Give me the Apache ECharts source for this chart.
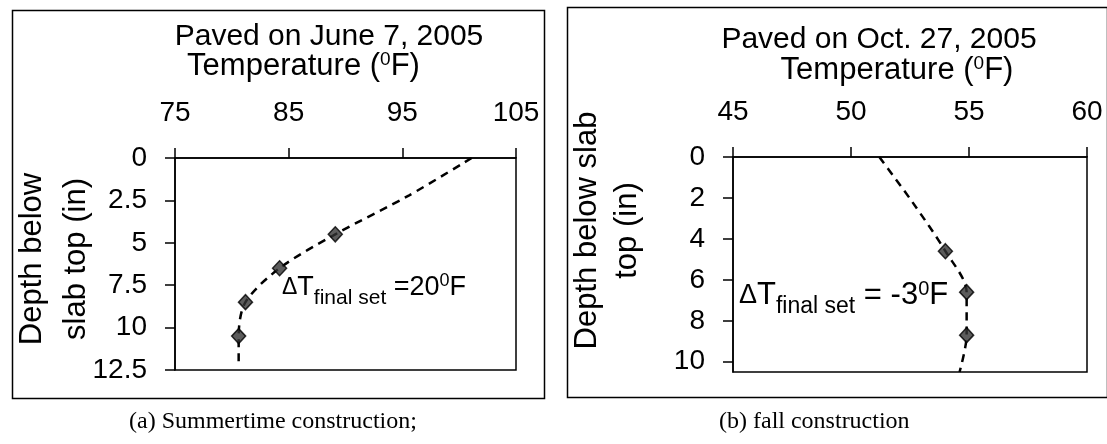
<!DOCTYPE html>
<html>
<head>
<meta charset="utf-8">
<script src="https://cdn.jsdelivr.net/npm/echarts@6/dist/echarts.min.js"></script>
<style>
  html, body { margin: 0; padding: 0; background: #fff; }
  #chart { width: 1107px; height: 444px; }
</style>
</head>
<body>
<div id="chart"></div>
<script>
// (a) summertime construction - paved June 7, 2005
const summerTemp = [89.1, 84.2, 81.2, 80.6];
const summerDepth = [4.5, 6.5, 8.5, 10.5];
const summerFitTemp = [101.1, 95.6, 89.1, 84.2, 81.2, 80.6, 80.6];
const summerFitDepth = [0, 2.2, 4.5, 6.5, 8.5, 10.5, 12.3];
const summerTempTicks = [75, 85, 95, 105];
const summerDepthTicks = [0, 2.5, 5, 7.5, 10, 12.5];

// (b) fall construction - paved Oct. 27, 2005
const fallTemp = [54.0, 54.9, 54.9];
const fallDepth = [4.6, 6.6, 8.7];
const fallFitTemp = [51.2, 52.6, 54.0, 54.9, 54.9, 54.6];
const fallFitDepth = [0, 2.2, 4.6, 6.6, 8.7, 10.5];
const fallTempTicks = [45, 50, 55, 60];
const fallDepthTicks = [0, 2, 4, 6, 8, 10];
const fallDepthMax = 10.5;

const FONT = 'Liberation Sans';
const pairs = (xs, ys) => xs.map((x, i) => [x, ys[i]]);

const chart = echarts.init(document.getElementById('chart'), null, { renderer: 'canvas' });

const supRich = {
    sup: { fontSize: 19, fontFamily: FONT, color: '#000', padding: [0, 0, 14, 0] }
};

function xAxisFor(gridIndex, ticks, nameGap, namePad) {
    return {
        gridIndex,
        type: 'value',
        position: 'top',
        min: ticks[0],
        max: ticks[ticks.length - 1],
        name: 'Temperature ({sup|0}F)',
        nameLocation: 'middle',
        nameGap: nameGap,
        nameMoveOverlap: false,
        nameTextStyle: { fontSize: 31, fontFamily: FONT, color: '#000', padding: namePad, rich: supRich },
        axisLine: { lineStyle: { color: '#000', width: 1.5 } },
        axisTick: { length: 10, lineStyle: { color: '#000', width: 1.5 }, customValues: ticks },
        axisLabel: { fontSize: 28, fontFamily: FONT, color: '#000', margin: 31, customValues: ticks },
        splitLine: { show: false }
    };
}

function yAxisFor(gridIndex, ticks, max, name, nameGap, lineHeight, namePad) {
    return {
        gridIndex,
        type: 'value',
        inverse: true,
        min: ticks[0],
        max: max,
        name: name,
        nameLocation: 'middle',
        nameGap: nameGap,
        nameRotate: 90,
        nameMoveOverlap: false,
        nameTextStyle: { fontSize: 31, fontFamily: FONT, color: '#000', lineHeight: lineHeight, padding: namePad, align: 'center' },
        axisLine: { lineStyle: { color: '#000', width: 1.5 } },
        axisTick: { length: 10, lineStyle: { color: '#000', width: 1.5 }, customValues: ticks },
        axisLabel: { fontSize: 28, fontFamily: FONT, color: '#000', margin: 28, customValues: ticks },
        splitLine: { show: false }
    };
}

const fitLine = {
    type: 'line',
    showSymbol: false,
    smooth: 0.3,
    silent: true,
    lineStyle: { color: '#000', width: 2.5, type: [8, 6] },
    z: 2
};

const diamonds = {
    type: 'scatter',
    symbol: 'diamond',
    symbolSize: [14, 15],
    itemStyle: { color: '#333', borderColor: '#000', borderWidth: 1.5 },
    z: 3
};

function annotRich(main, sub) {
    return {
        d: { fontSize: main - 4, fontFamily: FONT, color: '#000' },
        m: { fontSize: main, fontFamily: FONT, color: '#000' },
        sub: { fontSize: sub, fontFamily: FONT, color: '#000', padding: [22, 0, 0, 0] },
        sup: { fontSize: Math.round(main * 0.65), fontFamily: FONT, color: '#000', padding: [0, 0, 13, 0] }
    };
}

const option = {
    backgroundColor: '#fff',
    animation: false,
    title: [
        { text: 'Paved on June 7, 2005', left: 324, top: 17, textAlign: 'center',
          textStyle: { fontSize: 30, fontWeight: 'normal', fontFamily: FONT, color: '#000' } },
        { text: 'Paved on Oct. 27, 2005', left: 874, top: 20, textAlign: 'center',
          textStyle: { fontSize: 30, fontWeight: 'normal', fontFamily: FONT, color: '#000' } }
    ],
    grid: [
        { left: 175, top: 158, right: 591, bottom: 74, show: true, borderColor: '#000', borderWidth: 1.5 },
        { left: 733, top: 157, right: 20, bottom: 72, show: true, borderColor: '#000', borderWidth: 1.5 }
    ],
    xAxis: [
        xAxisFor(0, summerTempTicks, 75, [0, 84, 0, 0]),
        xAxisFor(1, fallTempTicks, 70, [0, 26, 0, 0])
    ],
    yAxis: [
        yAxisFor(0, summerDepthTicks, summerDepthTicks[summerDepthTicks.length - 1], 'Depth below\nslab top (in)', 77, 44, [0, 0, 0, 10]),
        yAxisFor(1, fallDepthTicks, fallDepthMax, 'Depth below slab\ntop (in)', 86, 40, [0, 0, 0, 68])
    ],
    series: [
        Object.assign({}, fitLine, { xAxisIndex: 0, yAxisIndex: 0, data: pairs(summerFitTemp, summerFitDepth) }),
        Object.assign({}, diamonds, { xAxisIndex: 0, yAxisIndex: 0, data: pairs(summerTemp, summerDepth) }),
        Object.assign({}, fitLine, { xAxisIndex: 1, yAxisIndex: 1, data: pairs(fallFitTemp, fallFitDepth) }),
        Object.assign({}, diamonds, { xAxisIndex: 1, yAxisIndex: 1, data: pairs(fallTemp, fallDepth) })
    ],
    graphic: [
        // panel frames
        { type: 'rect', left: 10, top: 8, shape: { width: 532, height: 388 },
          style: { fill: 'none', stroke: '#000', lineWidth: 1.5 }, silent: true },
        { type: 'rect', left: 565, top: 5, shape: { width: 540, height: 390 },
          style: { fill: 'none', stroke: '#000', lineWidth: 1.5 }, silent: true },
        // annotations
        { type: 'text', left: 282, top: 272, silent: true,
          style: { text: '{d|Δ}{m|T}{sub|final set}{m| =20}{sup|0}{m|F}', rich: annotRich(27, 21) } },
        { type: 'text', left: 739, top: 279, silent: true,
          style: { text: '{d|Δ}{m|T}{sub|final set}{m| = -3}{sup|0}{m|F}', rich: annotRich(31, 23) } },
        // captions
        { type: 'text', left: 270 - 141, top: 410, silent: true,
          style: { text: '(a) Summertime construction;', font: '24px "Liberation Serif"', fill: '#000' } },
        { type: 'text', left: 815 - 96, top: 410, silent: true,
          style: { text: '(b) fall construction', font: '24px "Liberation Serif"', fill: '#000' } }
    ]
};

chart.setOption(option);
</script>
</body>
</html>
